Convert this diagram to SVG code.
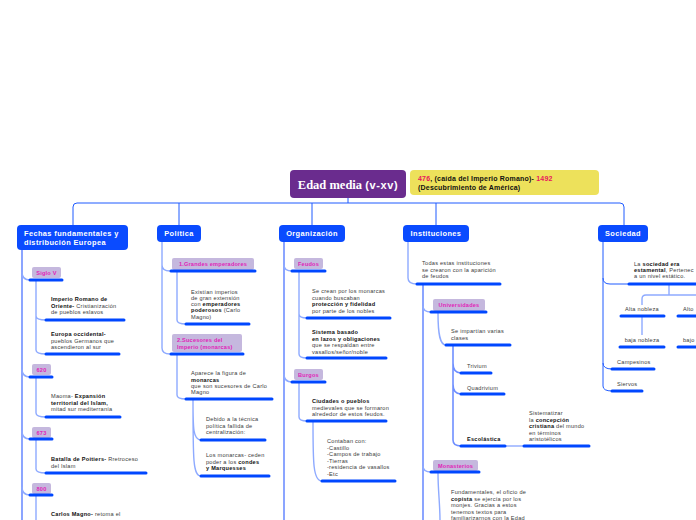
<svg xmlns="http://www.w3.org/2000/svg" width="696" height="520" viewBox="0 0 696 520">
<style>
.bg{fill:#ffffff}
.main{fill:#0a4bff}
.mt{font-family:"Liberation Sans",Arial,sans-serif;font-size:7.4px;font-weight:bold;fill:#ffffff;letter-spacing:0.4px}
.lab{fill:#c5b8de}
.lt{font-family:"Liberation Sans",Arial,sans-serif;font-size:5.6px;font-weight:bold;fill:#e01fb8;letter-spacing:0.2px}
.t{font-family:"Liberation Sans",Arial,sans-serif;font-size:5.6px;fill:#3a3a3a;letter-spacing:0.25px}
.b{font-weight:bold;fill:#111111}
.ul{stroke:#0047ff;stroke-width:3;stroke-linecap:round;fill:none}
.c1{stroke:#1f5bff;stroke-width:1;fill:none}
.c2{stroke:#8eaaff;stroke-width:1.4;fill:none}
.c3{stroke:#6f8fff;stroke-width:1.6;fill:none}
.red{fill:#e8175d}
</style>
<rect class="bg" x="0" y="0" width="696" height="520"/>

<g id="connectors">
  <path class="c1" d="M348,198 V203 M73,225 V207 Q73,203 77,203 H620 Q624,203 624,207 V225 M179,203 V225 M312,203 V225 M436,203 V225"/>
  <path class="c3" d="M22,250 V520"/>
  <path class="c2" d="M22,272 Q22,280 30,280 M22,369 Q22,377 30,377 M22,431 Q22,439 30,439 M22,487 Q22,495 30,495"/>
  <path class="c2" d="M36,281 V350 Q36,354 46,354 M36,316 Q36,320 46,320 M36,378 V413 Q36,417 46,417 M36,440 V469 Q36,473 46,473 M36,496 V520"/>
  <path class="c2" d="M162,242 V348 Q162,354 170,354 M162,265 Q162,271 170,271"/>
  <path class="c2" d="M177,272 V320 Q177,324 186,324 M177,355 V395 Q177,399 186,399"/>
  <path class="c2" d="M193,400 C193,428 193,440 201,440 M193,400 C193,460 193,476 201,476"/>
  <path class="c3" d="M284,242 V520"/>
  <path class="c2" d="M284,265 Q284,271 292,271 M284,374 Q284,382 292,382"/>
  <path class="c2" d="M299,272 V354 Q299,358 307,358 M299,314 Q299,318 307,318 M299,383 V417 Q299,421 307,421"/>
  <path class="c2" d="M313,422 C313,462 313,481 322,481"/>
  <path class="c2" d="M408,242 V278 Q408,284 417,284"/>
  <path class="c3" d="M423,285 V520"/>
  <path class="c2" d="M423,306 Q423,312 431,312 M423,466 Q423,472 431,472"/>
  <path class="c2" d="M438,313 C438,335 440,345 446,345"/>
  <path class="c3" d="M453,346 V440 Q453,446 461,446 M453,363 Q453,373 461,373 M453,384 Q453,394 461,394"/>
  <path class="c2" d="M506,446 H524"/>
  <path class="c2" d="M438,473 C438,490 440,505 440,520"/>
  <path class="c1" d="M603,242 V386 Q603,391 612,391 M603,278 Q603,284 610,284 H629 M603,363 Q603,369 612,369"/>
  <path class="c2" d="M669,285 V295 M642,305 V299 Q642,295 646,295 H696 M642,317 V335"/>
</g>

<g id="title">
  <rect x="290" y="170" width="116" height="28" rx="4" fill="#6a2c8e"/>
  <text x="348" y="188.5" text-anchor="middle" fill="#ffffff" font-size="12.5"><tspan font-family="'Liberation Serif',serif" font-weight="bold">Edad media </tspan><tspan font-family="'Liberation Sans',sans-serif" font-weight="bold" font-size="11" letter-spacing="0.6">(v-xv)</tspan></text>
</g>
<g id="dates">
  <rect x="410" y="170" width="189" height="25" rx="4" fill="#ede15b"/>
  <text x="418" y="181" font-family="'Liberation Sans',Arial,sans-serif" font-size="7" font-weight="bold" fill="#111" letter-spacing="0.2"><tspan class="red">476</tspan>, (caída del Imperio Romano)- <tspan class="red">1492</tspan></text>
  <text x="418" y="190" font-family="'Liberation Sans',Arial,sans-serif" font-size="7" font-weight="bold" fill="#111" letter-spacing="0.2">(Descubrimiento de América)</text>
</g>

<g id="fechas">
  <rect class="main" x="17" y="225" width="111" height="25" rx="4"/>
  <text class="mt" x="24" y="236">Fechas fundamentales y</text>
  <text class="mt" x="24" y="245">distribución Europea</text>
</g>
<g id="siglo5">
  <rect class="lab" x="32" y="267" width="29" height="11" rx="2"/>
  <text class="lt" x="46.5" y="275" text-anchor="middle">Siglo V</text>
  <path class="ul" d="M30,280 H62"/>
</g>
<g id="oriente">
  <text class="t" x="51" y="301"><tspan class="b">Imperio Romano de</tspan></text>
  <text class="t" x="51" y="307.5"><tspan class="b">Oriente-</tspan> Cristianización</text>
  <text class="t" x="51" y="314">de pueblos eslavos</text>
  <path class="ul" d="M46,320 H124"/>
</g>
<g id="occidente">
  <text class="t" x="51" y="336"><tspan class="b">Europa occidental-</tspan></text>
  <text class="t" x="51" y="342.5">pueblos Germanos que</text>
  <text class="t" x="51" y="349">ascendieron al sur</text>
  <path class="ul" d="M46,354 H119"/>
</g>
<g id="a620">
  <rect class="lab" x="32" y="364" width="19" height="11" rx="2"/>
  <text class="lt" x="41.5" y="372" text-anchor="middle">620</text>
  <path class="ul" d="M30,377 H52"/>
</g>
<g id="maoma">
  <text class="t" x="51" y="398">Maoma- <tspan class="b">Expansión</tspan></text>
  <text class="t" x="51" y="404.5"><tspan class="b">territorial del Islam,</tspan></text>
  <text class="t" x="51" y="411">mitad sur mediterranía</text>
  <path class="ul" d="M46,417 H120"/>
</g>
<g id="a673">
  <rect class="lab" x="32" y="427" width="19" height="11" rx="2"/>
  <text class="lt" x="41.5" y="435" text-anchor="middle">673</text>
  <path class="ul" d="M30,439 H52"/>
</g>
<g id="poitiers">
  <text class="t" x="51" y="461"><tspan class="b">Batalla de Poitiers-</tspan> Rretroceso</text>
  <text class="t" x="51" y="467.5">del Islam</text>
  <path class="ul" d="M46,473 H146"/>
</g>
<g id="a800">
  <rect class="lab" x="32" y="483" width="19" height="11" rx="2"/>
  <text class="lt" x="41.5" y="491" text-anchor="middle">800</text>
  <path class="ul" d="M30,495 H52"/>
</g>
<g id="carlos">
  <text class="t" x="51" y="516"><tspan class="b">Carlos Magno-</tspan> retoma el</text>
</g>

<g id="politica">
  <rect class="main" x="157" y="225" width="44" height="17" rx="4"/>
  <text class="mt" x="179" y="236" text-anchor="middle">Política</text>
</g>
<g id="grandes">
  <rect class="lab" x="172" y="258" width="82" height="12" rx="2"/>
  <text class="lt" x="213" y="266" text-anchor="middle">1.Grandes emperadores</text>
  <path class="ul" d="M171,271 H255"/>
</g>
<g id="existian">
  <text class="t" x="191" y="294">Existían imperios</text>
  <text class="t" x="191" y="300">de gran extensión</text>
  <text class="t" x="191" y="306">con <tspan class="b">emperadores</tspan></text>
  <text class="t" x="191" y="312"><tspan class="b">poderosos</tspan> (Carlo</text>
  <text class="t" x="191" y="318.5">Magno)</text>
  <path class="ul" d="M186,324 H249"/>
</g>
<g id="sucesores">
  <rect class="lab" x="172" y="334" width="70" height="18" rx="2"/>
  <text class="lt" x="177" y="342">2.Sucesores del</text>
  <text class="lt" x="177" y="348.5">Imperio (monarcas)</text>
  <path class="ul" d="M171,354 H243"/>
</g>
<g id="aparece">
  <text class="t" x="191" y="375">Aparece la figura de</text>
  <text class="t" x="191" y="381.5"><tspan class="b">monarcas</tspan></text>
  <text class="t" x="191" y="388">que son sucesores de Carlo</text>
  <text class="t" x="191" y="394">Magno</text>
  <path class="ul" d="M186,399 H272"/>
</g>
<g id="debido">
  <text class="t" x="206" y="421">Debido a la técnica</text>
  <text class="t" x="206" y="427.5">política fallida de</text>
  <text class="t" x="206" y="434">centralización:</text>
  <path class="ul" d="M201,440 H265"/>
</g>
<g id="ceden">
  <text class="t" x="206" y="457">Los monarcas- ceden</text>
  <text class="t" x="206" y="463.5">poder a los <tspan class="b">condes</tspan></text>
  <text class="t" x="206" y="470"><tspan class="b">y Marquesses</tspan></text>
  <path class="ul" d="M201,476 H269"/>
</g>

<g id="organizacion">
  <rect class="main" x="279" y="225" width="66" height="17" rx="4"/>
  <text class="mt" x="312" y="236" text-anchor="middle">Organización</text>
</g>
<g id="feudos">
  <rect class="lab" x="294" y="258" width="29" height="11" rx="2"/>
  <text class="lt" x="308.5" y="266" text-anchor="middle">Feudos</text>
  <path class="ul" d="M292,271 H325"/>
</g>
<g id="secrean">
  <text class="t" x="312" y="293">Se crean por los monarcas</text>
  <text class="t" x="312" y="299.5">cuando buscaban</text>
  <text class="t" x="312" y="306"><tspan class="b">protección y fidelidad</tspan></text>
  <text class="t" x="312" y="312.5">por parte de los nobles</text>
  <path class="ul" d="M307,318 H390"/>
</g>
<g id="sistema">
  <text class="t" x="312" y="334"><tspan class="b">Sistema basado</tspan></text>
  <text class="t" x="312" y="340.5"><tspan class="b">en lazos y obligaciones</tspan></text>
  <text class="t" x="312" y="347">que se respaldan entre</text>
  <text class="t" x="312" y="353.5">vasallos/señor/noble</text>
  <path class="ul" d="M307,358 H386"/>
</g>
<g id="burgos">
  <rect class="lab" x="294" y="369" width="29" height="11" rx="2"/>
  <text class="lt" x="308.5" y="377" text-anchor="middle">Burgos</text>
  <path class="ul" d="M292,382 H325"/>
</g>
<g id="ciudades">
  <text class="t" x="312" y="403"><tspan class="b">Ciudades o pueblos</tspan></text>
  <text class="t" x="312" y="409.5">medievales que se formaron</text>
  <text class="t" x="312" y="416">alrededor de estos feudos.</text>
  <path class="ul" d="M307,421 H386"/>
</g>
<g id="contaban">
  <text class="t" x="327" y="443">Contaban con:</text>
  <text class="t" x="327" y="449.5">-Castillo</text>
  <text class="t" x="327" y="456">-Campos de trabajo</text>
  <text class="t" x="327" y="462.5">-Tierras</text>
  <text class="t" x="327" y="469">-residencia de vasallos</text>
  <text class="t" x="327" y="475.5">-Etc</text>
  <path class="ul" d="M322,481 H395"/>
</g>

<g id="instituciones">
  <rect class="main" x="403" y="225" width="66" height="17" rx="4"/>
  <text class="mt" x="436" y="236" text-anchor="middle">Instituciones</text>
</g>
<g id="todas">
  <text class="t" x="422" y="265">Todas estas instituciones</text>
  <text class="t" x="422" y="271.5">se crearon con la aparición</text>
  <text class="t" x="422" y="278">de feudos</text>
  <path class="ul" d="M417,284 H500"/>
</g>
<g id="universidades">
  <rect class="lab" x="433" y="299" width="52" height="12" rx="2"/>
  <text class="lt" x="459" y="307" text-anchor="middle">Universidades</text>
  <path class="ul" d="M431,312 H486"/>
</g>
<g id="impartian">
  <text class="t" x="451" y="333">Se impartían varias</text>
  <text class="t" x="451" y="339.5">clases</text>
  <path class="ul" d="M446,345 H510"/>
</g>
<g id="trivium">
  <text class="t" x="467" y="368">Trivium</text>
  <path class="ul" d="M461,373 H491"/>
</g>
<g id="quadrivium">
  <text class="t" x="467" y="389.5">Quadrivium</text>
  <path class="ul" d="M461,394 H504"/>
</g>
<g id="escolastica">
  <text class="t" x="467" y="441"><tspan class="b">Escolástica</tspan></text>
  <path class="ul" d="M461,446 H505"/>
</g>
<g id="sistematizar">
  <text class="t" x="529" y="415">Sistematizar</text>
  <text class="t" x="529" y="421.5">la <tspan class="b">concepción</tspan></text>
  <text class="t" x="529" y="428"><tspan class="b">cristiana</tspan> del mundo</text>
  <text class="t" x="529" y="434.5">en términos</text>
  <text class="t" x="529" y="441">aristotélicos</text>
  <path class="ul" d="M524,446 H589"/>
</g>
<g id="monasterios">
  <rect class="lab" x="433" y="460" width="45" height="11" rx="2"/>
  <text class="lt" x="455.5" y="468" text-anchor="middle">Monasterios</text>
  <path class="ul" d="M431,472 H479"/>
</g>
<g id="fundamentales">
  <text class="t" x="451" y="494">Fundamentales, el oficio de</text>
  <text class="t" x="451" y="500.5"><tspan class="b">copista</tspan> se ejercía por los</text>
  <text class="t" x="451" y="507">monjes. Gracias a estos</text>
  <text class="t" x="451" y="513.5">tenemos textos para</text>
  <text class="t" x="451" y="520">familiarizarnos con la Edad</text>
</g>

<g id="sociedad">
  <rect class="main" x="598" y="225" width="50" height="17" rx="4"/>
  <text class="mt" x="623" y="236" text-anchor="middle">Sociedad</text>
</g>
<g id="estamental">
  <text class="t" x="634" y="266">La <tspan class="b">sociedad era</tspan></text>
  <text class="t" x="634" y="272"><tspan class="b">estamental</tspan>, Pertenec</text>
  <text class="t" x="634" y="278">a un nivel estático.</text>
  <path class="ul" d="M629,284 H696"/>
</g>
<g id="altanobleza">
  <text class="t" x="642" y="311" text-anchor="middle">Alta nobleza</text>
  <path class="ul" d="M621,316 H664"/>
</g>
<g id="altoclero">
  <text class="t" x="683" y="311">Alto</text>
  <path class="ul" d="M678,316 H696"/>
</g>
<g id="bajanobleza">
  <text class="t" x="642" y="342" text-anchor="middle">baja nobleza</text>
  <path class="ul" d="M620,347 H664"/>
</g>
<g id="bajoclero">
  <text class="t" x="683" y="342">bajo</text>
  <path class="ul" d="M678,347 H696"/>
</g>
<g id="campesinos">
  <text class="t" x="617" y="364">Campesinos</text>
  <path class="ul" d="M612,369 H654"/>
</g>
<g id="siervos">
  <text class="t" x="617" y="386">Siervos</text>
  <path class="ul" d="M612,391 H642"/>
</g>
</svg>
